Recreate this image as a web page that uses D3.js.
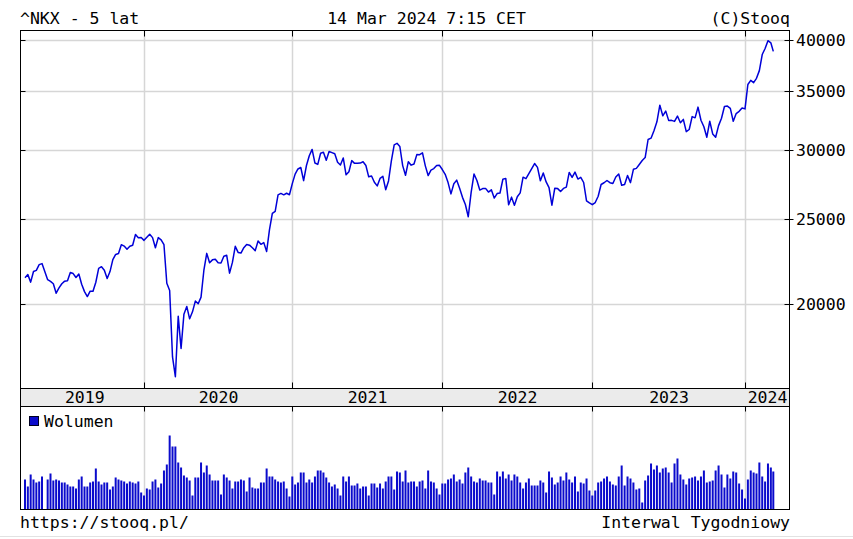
<!DOCTYPE html>
<html><head><meta charset="utf-8">
<script src="https://cdn.jsdelivr.net/npm/d3@7"></script>
<style>
html,body{margin:0;padding:0;background:#fff;}
svg{display:block;}
text{font-family:"DejaVu Sans Mono",monospace;font-size:16.5px;fill:#000;}
</style></head><body>
<svg id="c" width="853" height="539"></svg>
<script>
const title = "^NKX - 5 lat";
const stamp = "14 Mar 2024 7:15 CET";
const credit = "(C)Stooq";
const footLeft = "https://stooq.pl/";
const footRight = "Interwal Tygodniowy";
const volumeLabel = "Wolumen";

// weekly bars: Fridays from startDate (market closed week skipped), last bar dated lastDate
const startDate = "2019-03-15";
const skipDates = ["2019-05-03"];
const lastDate = "2024-03-14";

const close2019 = [21451,21627,21206,21807,21871,22200,22259,21345,21250,21117,20601,20885,21117,21259,21276,21746,21686,21467,21658,21088,20685,20419,20711,20704,21200,21988,22079,21879,21410,21799,22493,22800,22851,23392,23303,23113,23294,23354,24023,23817,23838];
const close2020 = [23657,23850,24041,23827,23205,23828,23688,23387,21143,20750,17431,16553,19389,17820,19499,19897,19262,19619,20179,20037,20388,21878,22864,22305,22479,22512,22306,22291,22696,22751,21710,22329,23289,22920,22882,23205,23406,23360,23205,23030,23620,23411,23517,22977,24325,25385,25527,26644,26751,26653,26763,26657];
const close2021 = [27444,28139,28519,28631,27663,28779,29520,30018,28966,28864,29718,29792,29176,29854,29768,29683,29020,28813,29358,28084,28317,29149,28942,28948,28964,29066,28783,27940,28003,27548,27283,27820,27977,27013,27641,29128,30382,30500,30249,28771,28049,29069,28805,28893,29612,29610,29746,28752,28030,28438,28546,28782,28792];
const close2022 = [28479,28124,27522,26717,27440,27697,27122,26477,25985,25163,26827,28150,27666,26986,27093,27105,26848,27004,26428,26739,26782,27762,27824,25963,26491,25936,26517,26788,27915,27802,28176,28547,28930,28642,27651,28215,27568,27154,25937,27116,27091,26891,27105,27199,28264,27900,28283,27778,27901,27527,26235,26095];
const close2023 = [25974,26120,26554,27383,27509,27671,27514,27454,27927,28144,27334,27385,28041,27518,28493,28564,28856,29158,29388,30808,30916,31524,32265,33706,32781,33189,32388,32391,32304,32759,32193,32473,31450,31624,32710,32606,33533,32402,31857,30995,32315,31259,30991,31950,32568,33585,33625,33431,32307,32970,33169,33464];
const close2024 = [33377,35577,35963,35751,36158,36897,38487,39098,39910,39688,38807];

const vol2019 = [300,230,350,300,270,280,330,300,360,290,300,290,270,270,250,230,230,210,300,330,230,230,270,280,410,280,250,270,270,200,230,320,300,290,280,260,280,270,260,280,170];
const vol2020 = [140,210,200,280,300,220,260,390,450,740,630,630,470,420,340,320,290,140,320,320,470,370,440,350,290,290,290,150,350,320,290,210,280,280,300,290,180,320,220,210,210,270,270,410,330,330,300,280,270,280,210,130];
const vol2021 = [330,250,270,370,370,270,300,270,330,390,390,370,320,270,230,250,210,140,330,280,330,240,240,260,210,230,230,140,260,260,220,260,210,280,330,330,200,380,370,280,390,270,280,280,230,280,290,210,390,280,270,210,150];
const vol2022 = [260,260,300,310,350,280,300,260,370,420,330,280,270,310,290,290,270,270,150,380,330,380,310,350,290,350,330,270,210,270,310,240,240,240,290,270,170,380,320,250,270,330,290,370,300,270,330,180,270,260,310,190];
const vol2023 = [140,190,270,280,310,330,280,250,240,330,440,240,330,310,270,200,210,70,290,340,460,400,440,370,410,420,370,270,460,510,350,300,250,310,320,330,290,330,390,270,280,290,390,440,350,220,350,310,380,370,260,200];
const vol2024 = [110,300,390,370,360,470,330,280,460,420,380];

const yTicks = [20000,25000,30000,35000,40000];
const yearLabels = ["2019","2020","2021","2022","2023","2024"];

// ---- build rows
const closes = [].concat(close2019,close2020,close2021,close2022,close2023,close2024);
const vols = [].concat(vol2019,vol2020,vol2021,vol2022,vol2023,vol2024);
const parse = d3.utcParse("%Y-%m-%d");
const skip = new Set(skipDates);
const dates = [];
let d = parse(startDate);
while (dates.length < closes.length) {
  const k = d3.utcFormat("%Y-%m-%d")(d);
  if (!skip.has(k)) dates.push(d);
  d = d3.utcDay.offset(d, 7);
}
dates[dates.length-1] = parse(lastDate);
const rows = dates.map((dt,i)=>({date:dt, close:closes[i], vol:vols[i]}));

// first bar of each year -> year boundary
const yearFirst = yearLabels.map(y => rows.find(r => r.date.getUTCFullYear() === +y).date);

// ---- layout
const L=20.5, R=789.5, T=30.5, B=388.5, VT=406.5, VB=509.5;
const svg = d3.select("#c");

const x = d3.scaleUtc()
  .domain([rows[0].date, ...yearFirst.slice(1), rows[rows.length-1].date])
  .range([25, 144, 292.3, 442.3, 592.3, 745, 773.3]);
const y = d3.scaleLog().domain([16050, 40985]).range([B, T]);
const yv = d3.scaleLinear().domain([0, 1030]).range([VB, VT]);

const grid = "#d6d6d6";

// band
svg.append("rect").attr("x",L).attr("y",B).attr("width",R-L).attr("height",VT-B).attr("fill","#ebebeb");

// horizontal grid
svg.append("g").selectAll("line").data(yTicks).join("line")
  .attr("x1",L).attr("x2",R).attr("y1",v=>Math.round(y(v))+0.5).attr("y2",v=>Math.round(y(v))+0.5)
  .attr("stroke",grid).attr("stroke-width",1.5);

// vertical grid (main + volume)
const vx = yearFirst.slice(1).map(dd => Math.round(x(dd))+0.5);
svg.append("g").selectAll("line").data(vx).join("line")
  .attr("x1",v=>v).attr("x2",v=>v).attr("y1",T).attr("y2",B).attr("stroke",grid).attr("stroke-width",1.5);
svg.append("g").selectAll("line").data(vx).join("line")
  .attr("x1",v=>v).attr("x2",v=>v).attr("y1",VT).attr("y2",VB).attr("stroke",grid).attr("stroke-width",1.5);

// volume bars
svg.append("g").selectAll("rect").data(rows).join("rect")
  .attr("x",r=>x(r.date)-1).attr("width",2)
  .attr("y",r=>yv(r.vol)).attr("height",r=>VB-yv(r.vol))
  .attr("fill","#0b0bcc");

// price line
svg.append("path").datum(rows)
  .attr("d", d3.line().x(r=>x(r.date)).y(r=>y(r.close)))
  .attr("fill","none").attr("stroke","#0000d8").attr("stroke-width",1.5).attr("stroke-linejoin","round");

// frames
const frame = svg.append("g").attr("fill","none").attr("stroke","#000").attr("stroke-width",1);
frame.append("rect").attr("x",L).attr("y",T).attr("width",R-L).attr("height",B-T);
frame.append("rect").attr("x",L).attr("y",B).attr("width",R-L).attr("height",VT-B);
frame.append("rect").attr("x",L).attr("y",VT).attr("width",R-L).attr("height",VB-VT);

// x ticks
const tk = svg.append("g").attr("stroke","#000").attr("stroke-width",1);
vx.forEach(v=>{
  tk.append("line").attr("x1",v).attr("x2",v).attr("y1",T).attr("y2",T+6);
  tk.append("line").attr("x1",v).attr("x2",v).attr("y1",B-6).attr("y2",B);
  tk.append("line").attr("x1",v).attr("x2",v).attr("y1",VT).attr("y2",VT+5);
});
// y ticks
yTicks.forEach(v=>{
  const yy = Math.round(y(v))+0.5;
  tk.append("line").attr("x1",R-5).attr("x2",R+4).attr("y1",yy).attr("y2",yy);
  tk.append("line").attr("x1",L).attr("x2",L+5).attr("y1",yy).attr("y2",yy);
});

// y labels
svg.append("g").selectAll("text").data(yTicks).join("text")
  .attr("x",796).attr("y",v=>y(v)+6).text(v=>v);

// year labels: centred on each year's visible span
const bounds = [x(rows[0].date), ...vx, R];
svg.append("g").selectAll("text").data(yearLabels).join("text")
  .attr("x",(t,i)=>(bounds[i]+bounds[i+1])/2).attr("y",403)
  .attr("text-anchor","middle").text(t=>t);

// header
svg.append("text").attr("x",20).attr("y",24).text(title);
svg.append("text").attr("x",426.5).attr("y",24).attr("text-anchor","middle").text(stamp);
svg.append("text").attr("x",790).attr("y",24).attr("text-anchor","end").text(credit);

// volume legend
svg.append("rect").attr("x",29.5).attr("y",416.5).attr("width",9).attr("height",9)
  .attr("fill","#0b0bcc").attr("stroke","#000022").attr("stroke-width",1);
svg.append("text").attr("x",44).attr("y",427).text(volumeLabel);

// footer
svg.append("text").attr("x",20).attr("y",528).text(footLeft);
svg.append("text").attr("x",790).attr("y",528).attr("text-anchor","end").text(footRight);
svg.append("line").attr("x1",0).attr("x2",853).attr("y1",536.5).attr("y2",536.5).attr("stroke","#e2e2e2");
</script>
</body></html>
